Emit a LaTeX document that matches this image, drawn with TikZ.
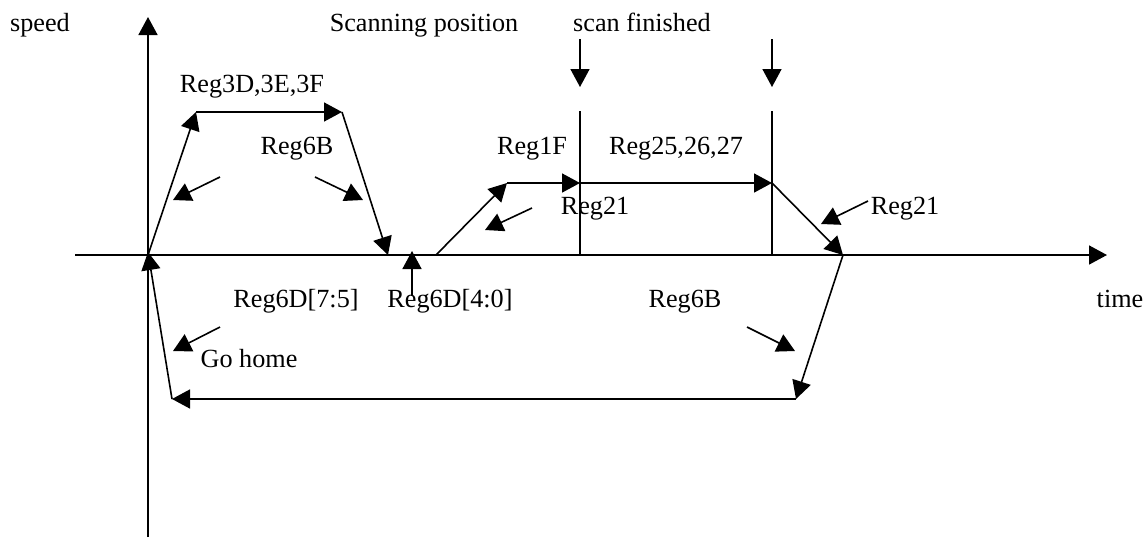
\documentclass[tikz,border=0pt]{standalone}
\usepackage{fontspec}
\setmainfont{Liberation Serif}
\usetikzlibrary{arrows.meta}

\begin{document}
\begin{tikzpicture}[x=0.5pt,y=-0.5pt]
    \tikzstyle{lbl}=[inner sep=0pt,anchor=base,font=\fontsize{13.1}{15}\selectfont]
    \tikzstyle{arr}=[-{Triangle[length=9pt,width=9.5pt]},line width=0.8pt]
    \tikzstyle{plain}=[line width=0.8pt]
    \useasboundingbox (0,0) rectangle (1148,543);
    % axes
    \coordinate (ybot) at (148,537);
    \coordinate (ytop) at (148,17);
    \coordinate (xleft) at (75,255);
    \coordinate (xright) at (1107,255);
    % move to scanning position
    \coordinate (orig) at (148,255);
    \coordinate (fast1) at (196,112);
    \coordinate (fast2) at (342,112);
    \coordinate (stop1) at (388,255);
    \coordinate (pos1) at (412,296);
    \coordinate (pos2) at (412,251);
    % scanning
    \coordinate (scan0) at (436,255);
    \coordinate (scan1) at (507,183);
    \coordinate (scan2) at (580,183);
    \coordinate (scan3) at (772,183);
    \coordinate (scan4) at (843,255);
    \coordinate (mark1t) at (580,111);
    \coordinate (mark1b) at (580,255);
    \coordinate (mark2t) at (772,111);
    \coordinate (mark2b) at (772,255);
    \coordinate (fin1a) at (580,39);
    \coordinate (fin1b) at (580,87);
    \coordinate (fin2a) at (772,39);
    \coordinate (fin2b) at (772,87);
    % go home
    \coordinate (home1) at (796,399);
    \coordinate (home2) at (172,399);
    \coordinate (home3) at (148,252);
    % pointers
    \coordinate (p1a) at (220,177);
    \coordinate (p1b) at (173,200);
    \coordinate (p2a) at (315,177);
    \coordinate (p2b) at (363,200);
    \coordinate (p3a) at (532,208);
    \coordinate (p3b) at (485,230);
    \coordinate (p4a) at (868,201);
    \coordinate (p4b) at (821,224);
    \coordinate (p5a) at (220,327);
    \coordinate (p5b) at (173,351);
    \coordinate (p6a) at (747,327);
    \coordinate (p6b) at (795,351);
    % labels
    \node (speed) at (40,31) [lbl] {speed};
    \node (scanpos) at (424,31) [lbl] {Scanning position};
    \node (scanfin) at (642,31) [lbl] {scan finished};
    \node (reg3d) at (252,92) [lbl] {Reg3D,3E,3F};
    \node (reg6b1) at (297,154) [lbl] {Reg6B};
    \node (reg1f) at (532,154) [lbl] {Reg1F};
    \node (reg25) at (676,154) [lbl] {Reg25,26,27};
    \node (reg21a) at (595,214) [lbl] {Reg21};
    \node (reg21b) at (905,214) [lbl] {Reg21};
    \node (reg6d75) at (296,307) [lbl] {Reg6D[7:5]};
    \node (reg6d40) at (387,307) [lbl,anchor=base west] {Reg6D[4:0]};
    \node (reg6b2) at (685,307) [lbl] {Reg6B};
    \node (gohome) at (249,367) [lbl] {Go home};
    \node (time) at (1120,307) [lbl] {time};
    % lines
    \draw [arr] (ybot) -- (ytop);
    \draw [arr] (xleft) -- (xright);
    \draw [arr] (orig) -- (fast1);
    \draw [arr] (fast1) -- (fast2);
    \draw [arr] (fast2) -- (stop1);
    \draw [arr] (pos1) -- (pos2);
    \draw [arr] (scan0) -- (scan1);
    \draw [arr] (scan1) -- (scan2);
    \draw [arr] (scan2) -- (scan3);
    \draw [arr] (scan3) -- (scan4);
    \draw [plain] (mark1t) -- (mark1b);
    \draw [plain] (mark2t) -- (mark2b);
    \draw [arr] (fin1a) -- (fin1b);
    \draw [arr] (fin2a) -- (fin2b);
    \draw [arr] (scan4) -- (home1);
    \draw [arr] (home1) -- (home2);
    \draw [arr] (home2) -- (home3);
    \draw [arr] (p1a) -- (p1b);
    \draw [arr] (p2a) -- (p2b);
    \draw [arr] (p3a) -- (p3b);
    \draw [arr] (p4a) -- (p4b);
    \draw [arr] (p5a) -- (p5b);
    \draw [arr] (p6a) -- (p6b);
\end{tikzpicture}
\end{document}
